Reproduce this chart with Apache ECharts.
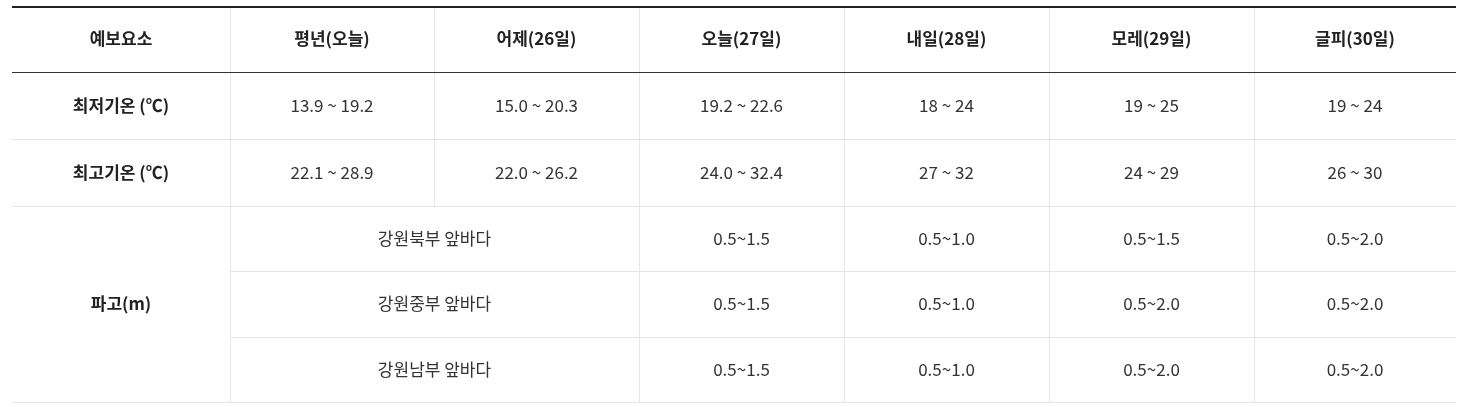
<!DOCTYPE html>
<html><head><meta charset="utf-8">
<script src="https://cdn.jsdelivr.net/npm/echarts@6/dist/echarts.min.js"></script>
<style>html,body{margin:0;background:#fff}#c{width:1468px;height:407px}</style>
</head><body><div id="c"></div>
<script>
var headers = ['예보요소', '평년(오늘)', '어제(26일)', '오늘(27일)', '내일(28일)', '모레(29일)', '글피(30일)'];
var rowLabels = ['최저기온 (℃)', '최고기온 (℃)', '파고(m)'];
var minTemp = ['13.9 ~ 19.2', '15.0 ~ 20.3', '19.2 ~ 22.6', '18 ~ 24', '19 ~ 25', '19 ~ 24'];
var maxTemp = ['22.1 ~ 28.9', '22.0 ~ 26.2', '24.0 ~ 32.4', '27 ~ 32', '24 ~ 29', '26 ~ 30'];
var seaAreas = ['강원북부 앞바다', '강원중부 앞바다', '강원남부 앞바다'];
var waves = [
  ['0.5~1.5', '0.5~1.0', '0.5~1.5', '0.5~2.0'],
  ['0.5~1.5', '0.5~1.0', '0.5~2.0', '0.5~2.0'],
  ['0.5~1.5', '0.5~1.0', '0.5~2.0', '0.5~2.0']
];

var chart = echarts.init(document.getElementById('c'));
var colX = [12, 230, 434, 639, 844, 1049, 1254, 1456];
var rowY = [6, 72, 139, 206, 271, 337, 402];
var font = '"Noto Sans CJK KR", "Noto Sans", sans-serif';
var g = [];
function text(c0, c1, r0, r1, s, bold) {
  g.push({type: 'text', style: {
    x: (colX[c0] + colX[c1]) / 2, y: (rowY[r0] + rowY[r1]) / 2,
    text: s, align: 'center', verticalAlign: 'middle',
    font: (bold ? 'bold ' : '') + '17px ' + font, fill: bold ? '#222' : '#333'
  }});
}
function hline(x0, x1, y, color, w) {
  g.push({type: 'line', shape: {x1: x0, y1: y, x2: x1, y2: y}, style: {stroke: color, lineWidth: w}});
}
function vline(x, y0, y1) {
  g.push({type: 'line', shape: {x1: x, y1: y0, x2: x, y2: y1}, style: {stroke: '#e6e6e6', lineWidth: 1}});
}
// grid lines
[2, 4, 5].forEach(function (r) { hline(colX[r === 2 ? 0 : 1], colX[7], rowY[r] + 0.5, '#e6e6e6', 1); });
hline(colX[0], colX[7], rowY[3] + 0.5, '#e6e6e6', 1);
hline(colX[0], colX[7], rowY[6] + 0.5, '#e6e6e6', 1);
for (var c = 1; c < 7; c++) {
  vline(colX[c] + 0.5, rowY[0], c === 2 ? rowY[3] : rowY[6]);
}
hline(colX[0], colX[7], rowY[0] + 1, '#222', 2);
hline(colX[0], colX[7], rowY[1] + 0.5, '#333', 1);

headers.forEach(function (h, i) { text(i, i + 1, 0, 1, h, true); });
text(0, 1, 1, 2, rowLabels[0], true);
text(0, 1, 2, 3, rowLabels[1], true);
text(0, 1, 3, 6, rowLabels[2], true);
minTemp.forEach(function (v, i) { text(i + 1, i + 2, 1, 2, v); });
maxTemp.forEach(function (v, i) { text(i + 1, i + 2, 2, 3, v); });
seaAreas.forEach(function (a, r) {
  text(1, 3, r + 3, r + 4, a);
  waves[r].forEach(function (v, i) { text(i + 3, i + 4, r + 3, r + 4, v); });
});
chart.setOption({graphic: {elements: g}});
</script></body></html>
